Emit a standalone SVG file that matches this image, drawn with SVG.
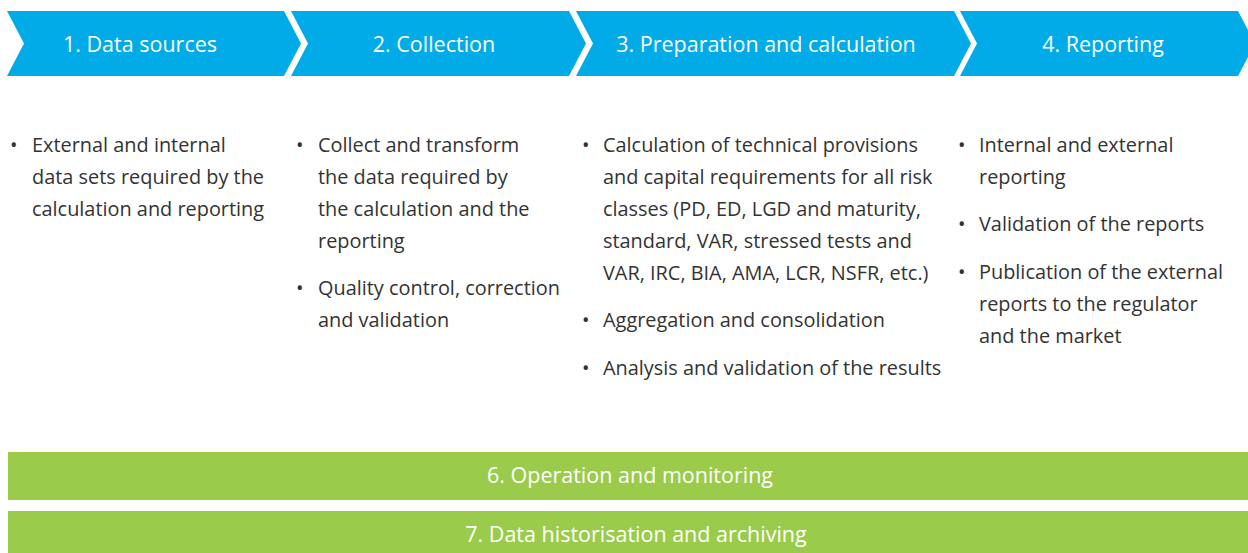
<svg xmlns="http://www.w3.org/2000/svg" width="1248" height="553" viewBox="0 0 1248 553">
<style>
.chev{fill:#00ABE7}
.bar{fill:#9BCB4B}
.hd{font-family:"Open Sans","Noto Sans","Liberation Sans",sans-serif;font-size:21.5px;fill:#fff;text-anchor:middle}
.tx{font-family:"Open Sans","Noto Sans","Liberation Sans",sans-serif;font-size:19.9px;fill:#333}
.bl{font-family:"Open Sans","Noto Sans","Liberation Sans",sans-serif;font-size:19.9px;fill:#333}
</style>
<rect width="1248" height="553" fill="#fff"/>
<g id="step1">
<polygon class="chev" points="7,11 284,11 301,43.5 284,76 7,76 24,43.5"/>
<text class="hd" x="140" y="52">1. Data sources</text>
</g>
<g id="step2">
<polygon class="chev" points="291,11 569,11 586,43.5 569,76 291,76 308,43.5"/>
<text class="hd" x="434" y="52">2. Collection</text>
</g>
<g id="step3">
<polygon class="chev" points="576,11 954,11 971,43.5 954,76 576,76 593,43.5"/>
<text class="hd" x="766" y="52">3. Preparation and calculation</text>
</g>
<g id="step4">
<polygon class="chev" points="960,11 1238,11 1255,43.5 1238,76 960,76 977,43.5"/>
<text class="hd" x="1103" y="52">4. Reporting</text>
</g>
<g id="col1">
<text class="bl" x="10" y="152">•</text>
<text class="tx" x="32" y="152">External and internal</text>
<text class="tx" x="32" y="184">data sets required by the</text>
<text class="tx" x="32" y="216">calculation and reporting</text>
</g>
<g id="col2">
<text class="bl" x="296" y="152">•</text>
<text class="tx" x="318" y="152">Collect and transform</text>
<text class="tx" x="318" y="184">the data required by</text>
<text class="tx" x="318" y="216">the calculation and the</text>
<text class="tx" x="318" y="248">reporting</text>
<text class="bl" x="296" y="295">•</text>
<text class="tx" x="318" y="295">Quality control, correction</text>
<text class="tx" x="318" y="327">and validation</text>
</g>
<g id="col3">
<text class="bl" x="582" y="152">•</text>
<text class="tx" x="603" y="152">Calculation of technical provisions</text>
<text class="tx" x="603" y="184">and capital requirements for all risk</text>
<text class="tx" x="603" y="216">classes (PD, ED, LGD and maturity,</text>
<text class="tx" x="603" y="248">standard, VAR, stressed tests and</text>
<text class="tx" x="603" y="280">VAR, IRC, BIA, AMA, LCR, NSFR, etc.)</text>
<text class="bl" x="582" y="327">•</text>
<text class="tx" x="603" y="327">Aggregation and consolidation</text>
<text class="bl" x="582" y="375">•</text>
<text class="tx" x="603" y="375">Analysis and validation of the results</text>
</g>
<g id="col4">
<text class="bl" x="958" y="152">•</text>
<text class="tx" x="979" y="152">Internal and external</text>
<text class="tx" x="979" y="184">reporting</text>
<text class="bl" x="958" y="231">•</text>
<text class="tx" x="979" y="231">Validation of the reports</text>
<text class="bl" x="958" y="279">•</text>
<text class="tx" x="979" y="279">Publication of the external</text>
<text class="tx" x="979" y="311">reports to the regulator</text>
<text class="tx" x="979" y="343">and the market</text>
</g>
<g id="bar6">
<rect class="bar" x="8" y="452" width="1240" height="48"/>
<text class="hd" x="630" y="483">6. Operation and monitoring</text>
</g>
<g id="bar7">
<rect class="bar" x="8" y="511" width="1240" height="42"/>
<text class="hd" x="636" y="542">7. Data historisation and archiving</text>
</g>
<g id="connectors"/>
</svg>
